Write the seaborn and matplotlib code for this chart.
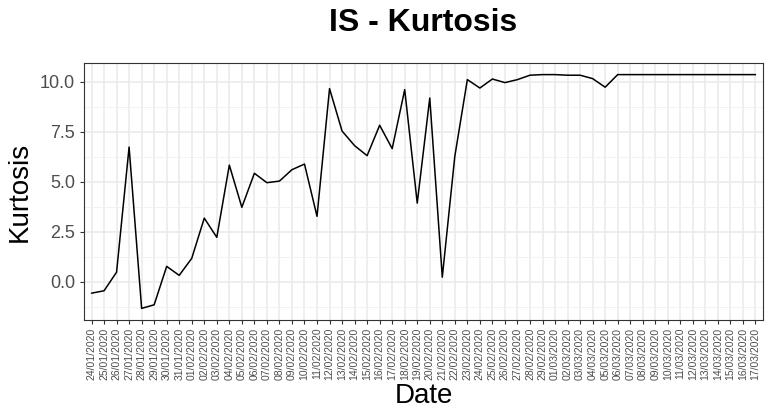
import pandas as pd
import numpy as np
import matplotlib.pyplot as plt
import seaborn as sns
from matplotlib.ticker import MultipleLocator

# Dates shown on the x axis (one per day)
dates = pd.date_range("2020-01-24", "2020-03-17", freq="D").strftime("%d/%m/%Y").tolist()

# Kurtosis values
kurtosis = [
    -0.57, -0.45, 0.48, 6.73, -1.33, -1.15, 0.77, 0.32, 1.17, 3.18,
    2.22, 5.83, 3.72, 5.42, 4.95, 5.03, 5.60, 5.88, 3.27, 9.65,
    7.53, 6.80, 6.30, 7.82, 6.65, 9.60, 3.93, 9.18, 0.23, 6.27,
    10.10, 9.68, 10.13, 9.95, 10.10, 10.32, 10.35, 10.35, 10.32, 10.32,
    10.15, 9.72, 10.35, 10.35, 10.35, 10.35, 10.35, 10.35, 10.35, 10.35,
    10.35, 10.35, 10.35, 10.35,
]

df = pd.DataFrame({"Date": dates, "Kurtosis": kurtosis})

sns.set_style("white")
plt.rcParams['font.family'] = ['Liberation Sans', 'DejaVu Sans']

fig = plt.figure(figsize=(7.7, 4.19), dpi=100)
ax = fig.add_axes([84 / 770, 1 - 320 / 419, (763 - 84) / 770, (320 - 63) / 419])

sns.lineplot(data=df, x="Date", y="Kurtosis", sort=False, color="black", linewidth=1.1, ax=ax, zorder=3)

# ggplot-like theme_bw
ax.set_xlim(-0.6, len(dates) - 0.4)
ax.set_ylim(-1.91, 10.93)
ax.yaxis.set_major_locator(MultipleLocator(2.5))
ax.yaxis.set_minor_locator(MultipleLocator(1.25))
ax.set_yticks([0, 2.5, 5, 7.5, 10])
ax.set_yticklabels(["0.0", "2.5", "5.0", "7.5", "10.0"])
ax.set_xticks(range(len(dates)))
ax.set_xticklabels(dates, rotation=90, fontsize=7.5, color="#4D4D4D")
ax.grid(which="major", color="#EBEBEB", linewidth=1.2, zorder=0)
ax.grid(which="minor", axis="y", color="#F2F2F2", linewidth=0.7, zorder=0)
ax.set_axisbelow(True)
for s in ax.spines.values():
    s.set_color("#333333")
    s.set_linewidth(0.8)
ax.tick_params(axis="y", which="major", labelsize=13, labelcolor="#4D4D4D", length=3, color="#333333", width=0.8, left=True)
ax.tick_params(axis="y", which="minor", length=0)
ax.tick_params(axis="x", length=3, color="#333333", width=0.8, bottom=True, pad=2.5)

ax.set_xlabel("Date", fontsize=20, labelpad=2, color="black")
ax.set_ylabel("Kurtosis", fontsize=20, labelpad=5, color="black")
ax.set_title("IS - Kurtosis", fontsize=23, fontweight="bold", pad=23, color="black")

fig.savefig("out.png", dpi=100)
